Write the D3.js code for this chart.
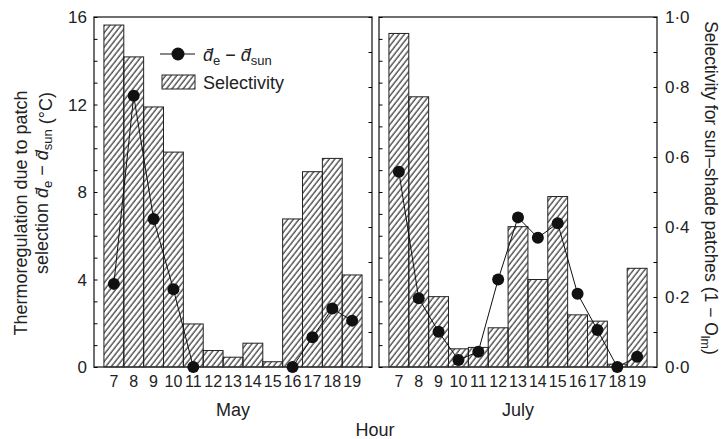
<!DOCTYPE html>
<html>
<head>
<meta charset="utf-8">
<script src="https://cdn.jsdelivr.net/npm/d3@7"></script>
<style>
  body { margin: 0; background: #fff; }
  text { font-family: "Liberation Sans", Arial, sans-serif; fill: #222; }
</style>
</head>
<body>
<div id="chart"></div>
<script>
// values
const hours = [7, 8, 9, 10, 11, 12, 13, 14, 15, 16, 17, 18, 19];
const maySelectivity = [0.977, 0.886, 0.743, 0.614, 0.123, 0.047, 0.028, 0.068, 0.015, 0.423, 0.558, 0.596, 0.263];
const mayDiff = [3.8, 12.4, 6.77, 3.55, 0, null, null, null, null, 0, 1.36, 2.67, 2.12];
const julySelectivity = [0.953, 0.772, 0.201, 0.052, 0.056, 0.112, 0.401, 0.25, 0.487, 0.149, 0.131, 0.008, 0.282];
const julyDiff = [8.93, 3.14, 1.61, 0.32, 0.7, 4.0, 6.84, 5.91, 6.57, 3.35, 1.69, 0, 0.47];
const months = ["May", "July"];
const leftTicks = [0, 4, 8, 12, 16];
const rightTicks = [0, 0.2, 0.4, 0.6, 0.8, 1.0];

const width = 725, height = 439;
const top_y = 17, bottom_y = 367;
const panels = [
    {name: months[0], x0: 94, x1: 372, sel: maySelectivity, diff: mayDiff},
    {name: months[1], x0: 379, x1: 657, sel: julySelectivity, diff: julyDiff}
];

let svg = d3.select("#chart")
    .append("svg")
    .attr("width", width)
    .attr("height", height);

// hatch
let defs = svg.append("defs");
defs.append("pattern")
    .attr("id", "hatch")
    .attr("patternUnits", "userSpaceOnUse")
    .attr("width", 4.4)
    .attr("height", 10)
    .attr("patternTransform", "rotate(38)")
    .append("line")
    .attr("x1", 1).attr("y1", 0)
    .attr("x2", 1).attr("y2", 10)
    .attr("stroke", "#111")
    .attr("stroke-width", 1.05);

let y = d3.scaleLinear().domain([0, 16]).range([bottom_y, top_y]);
let ySel = d3.scaleLinear().domain([0, 1]).range([bottom_y, top_y]);

panels.forEach(function(p, pi) {
    let x = d3.scaleBand()
        .domain(hours)
        .range([p.x0, p.x1])
        .paddingInner(0)
        .paddingOuter(0.5);

    let g = svg.append("g");

    // bars
    g.selectAll("rect.bar")
        .data(hours)
        .enter()
        .append("rect")
        .attr("class", "bar")
        .attr("x", function(d) { return x(d); })
        .attr("y", function(d, i) { return ySel(p.sel[i]); })
        .attr("width", x.bandwidth())
        .attr("height", function(d, i) { return ySel(0) - ySel(p.sel[i]); })
        .attr("fill", "url(#hatch)")
        .attr("stroke", "#222")
        .attr("stroke-width", 1);

    // frame
    g.append("rect")
        .attr("x", p.x0).attr("y", top_y)
        .attr("width", p.x1 - p.x0).attr("height", bottom_y - top_y)
        .attr("fill", "none")
        .attr("stroke", "#333")
        .attr("stroke-width", 1.4);

    // inward ticks: left edge uses the 0-16 scale, right edge the 0-1 scale
    g.append("g")
        .attr("transform", `translate(${p.x0},0)`)
        .call(d3.axisRight(y).tickValues(d3.range(0, 17, 1)).tickSize(3.5).tickFormat(""))
        .call(a => a.select(".domain").remove());
    g.append("g")
        .attr("transform", `translate(${p.x1},0)`)
        .call(d3.axisLeft(ySel).tickValues(d3.range(0, 11, 1).map(v => v / 10)).tickSize(3.5).tickFormat(""))
        .call(a => a.select(".domain").remove());

    // hour labels
    g.append("g")
        .attr("transform", `translate(0,${bottom_y})`)
        .call(d3.axisBottom(x).tickSize(0).tickPadding(9))
        .call(a => a.select(".domain").remove())
        .selectAll("text")
        .style("font-size", "16px")
        .style("font-family", "Liberation Sans, Arial, sans-serif")
        .attr("fill", "#222");

    // line + points
    let pts = hours.map(function(h, i) { return {h: h, v: p.diff[i]}; });
    let line = d3.line()
        .defined(function(d) { return d.v != null; })
        .x(function(d) { return x(d.h) + x.bandwidth() / 2; })
        .y(function(d) { return y(d.v); });
    g.append("path")
        .datum(pts)
        .attr("fill", "none")
        .attr("stroke", "#111")
        .attr("stroke-width", 1)
        .attr("d", line);
    g.selectAll("circle")
        .data(pts.filter(function(d) { return d.v != null; }))
        .enter()
        .append("circle")
        .attr("cx", function(d) { return x(d.h) + x.bandwidth() / 2; })
        .attr("cy", function(d) { return y(d.v); })
        .attr("r", 6)
        .attr("fill", "#111");

    g.append("text")
        .attr("x", (p.x0 + p.x1) / 2)
        .attr("y", 416)
        .style("text-anchor", "middle")
        .style("font-size", "18px")
        .text(p.name);
});

// left tick labels
svg.selectAll("text.lt")
    .data(leftTicks)
    .enter()
    .append("text")
    .attr("class", "lt")
    .attr("x", 87)
    .attr("y", function(d) { return y(d) + 6; })
    .style("text-anchor", "end")
    .style("font-size", "17px")
    .text(function(d) { return d; });

// right tick labels with middle dot
svg.selectAll("text.rt")
    .data(rightTicks)
    .enter()
    .append("text")
    .attr("class", "rt")
    .attr("x", 665)
    .attr("y", function(d) { return ySel(d) + 6; })
    .style("text-anchor", "start")
    .style("font-size", "17px")
    .text(function(d) { return d3.format(".1f")(d).replace(".", "\u00B7"); });

svg.append("text")
    .attr("x", 375)
    .attr("y", 436)
    .style("text-anchor", "middle")
    .style("font-size", "18px")
    .text("Hour");

// writes  d̄e − d̄sun  into a text element
function diffLabel(t) {
    t.append("tspan").style("font-style", "italic").text("d\u0304");
    t.append("tspan").attr("dy", 4).style("font-size", "13px").text("e");
    t.append("tspan").attr("dy", -4).text(" \u2212 ");
    t.append("tspan").style("font-style", "italic").text("d\u0304");
    t.append("tspan").attr("dy", 4).style("font-size", "13px").text("sun");
    t.append("tspan").attr("dy", -4).text("");
}

// left axis title
svg.append("text")
    .attr("transform", "translate(27,213) rotate(-90)")
    .style("text-anchor", "middle")
    .style("font-size", "18px")
    .text("Thermoregulation due to patch");
let l2 = svg.append("text")
    .attr("transform", "translate(48,183) rotate(-90)")
    .style("text-anchor", "middle")
    .style("font-size", "18px");
l2.append("tspan").text("selection ");
diffLabel(l2);
l2.append("tspan").text(" (\u00B0C)");

// right axis title
let r = svg.append("text")
    .attr("transform", "translate(705,188) rotate(90)")
    .style("text-anchor", "middle")
    .style("font-size", "17.5px");
r.append("tspan").text("Selectivity for sun\u2013shade patches (1 \u2212 O");
r.append("tspan").attr("dy", 4).style("font-size", "12.5px").text("lm");
r.append("tspan").attr("dy", -4).text(")");

// legend
let lg = svg.append("g");
lg.append("line")
    .attr("x1", 160).attr("x2", 195)
    .attr("y1", 54).attr("y2", 54)
    .attr("stroke", "#111").attr("stroke-width", 1);
lg.append("circle")
    .attr("cx", 178).attr("cy", 54).attr("r", 6.5)
    .attr("fill", "#111");
let lt = lg.append("text")
    .attr("x", 203).attr("y", 61)
    .style("font-size", "18px");
diffLabel(lt);
lg.append("rect")
    .attr("x", 162).attr("y", 75)
    .attr("width", 33).attr("height", 14)
    .attr("fill", "url(#hatch)")
    .attr("stroke", "#222").attr("stroke-width", 1);
lg.append("text")
    .attr("x", 203).attr("y", 89)
    .style("font-size", "18px")
    .text("Selectivity");
</script>
</body>
</html>
